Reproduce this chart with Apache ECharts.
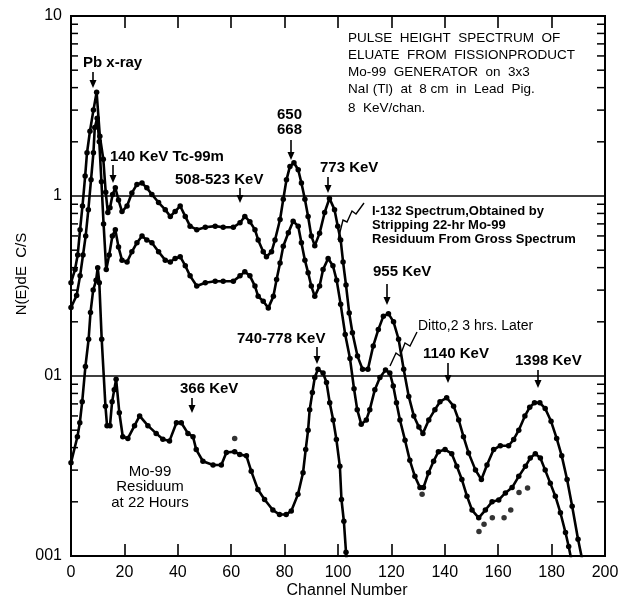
<!DOCTYPE html>
<html>
<head>
<meta charset="utf-8">
<title>Pulse height spectrum - Mo-99 generator eluate</title>
<script src="https://cdn.jsdelivr.net/npm/echarts@6.0.0/dist/echarts.min.js"></script>
<style>
  html, body { margin: 0; padding: 0; background: #fff; }
  #box { width: 624px; height: 601px; }
</style>
</head>
<body>
<div id="box"></div>
<script>
// readings: channel number and N(E)dE in C/S
// I-132 spectrum (stripped of 22-hr Mo-99 residuum) - top curve
const i132Ch = [0, 1.5, 2.5, 3.4, 4.3, 5.3, 6.0, 7.1, 8.4, 9.6,
  10.8, 12.1, 13.0, 13.8, 14.6, 15.6, 16.6, 17.8, 19.1, 21.0,
  22.8, 24.7, 26.6, 28.4, 30.3, 32.8, 35.3, 37.2, 39.0, 40.9,
  42.8, 44.6, 47.1, 50.3, 54.0, 57.0, 60.8, 63.3, 65.1, 67.0,
  68.9, 70.1, 72.0, 73.2, 75.1, 76.4, 78.3, 79.5, 80.7, 82.0,
  83.5, 85.1, 86.3, 87.6, 88.8, 90.0, 91.3, 93.1, 95.0, 96.8,
  98.7, 99.9, 101.0, 101.9, 103.0, 104.2, 105.4, 107.3, 109.2, 111.2,
  113.2, 115.1, 117.0, 118.9, 120.8, 122.7, 124.6, 126.5, 128.4, 130.3,
  131.8, 134.0, 136.3, 138.2, 140.7, 143.3, 145.2, 147.0, 148.9, 151.5,
  153.7, 155.8, 158.3, 160.8, 163.9, 165.8, 167.7, 170.0, 171.8, 173.6,
  175.6, 177.6, 179.8, 181.9, 183.8, 185.8, 187.7, 189.9, 191.5];
const i132Val = [0.33, 0.39, 0.47, 0.65, 0.88, 1.29, 1.74, 2.29, 3.0, 3.77,
  2.15, 1.6, 1.05, 0.81, 0.86, 1.02, 1.11, 0.95, 0.82, 0.88,
  1.04, 1.16, 1.18, 1.11, 1.02, 0.92, 0.84, 0.77, 0.82, 0.88,
  0.77, 0.68, 0.65, 0.67, 0.68, 0.67, 0.67, 0.71, 0.77, 0.72,
  0.65, 0.57, 0.49, 0.46, 0.49, 0.57, 0.74, 0.96, 1.23, 1.46,
  1.53, 1.40, 1.18, 0.96, 0.77, 0.60, 0.53, 0.62, 0.81, 0.97,
  0.84, 0.68, 0.57, 0.43, 0.32, 0.224, 0.174, 0.129, 0.109, 0.109,
  0.147, 0.181, 0.215, 0.222, 0.20, 0.16, 0.109, 0.077, 0.060, 0.052,
  0.048, 0.057, 0.065, 0.072, 0.0757, 0.068, 0.057, 0.046, 0.0374, 0.030,
  0.0266, 0.032, 0.039, 0.041, 0.041, 0.0444, 0.050, 0.060, 0.067, 0.071,
  0.071, 0.066, 0.056, 0.045, 0.036, 0.0266, 0.0189, 0.0124, 0.0095];

// ditto, 2.3 hrs later - middle curve
const dittoCh = [0, 2.1, 3.4, 4.5, 5.5, 6.5, 7.5, 8.4, 8.9, 9.8,
  10.6, 11.4, 12.2, 13.2, 14.3, 15.5, 16.6, 17.8, 19.1, 21.0,
  22.8, 24.7, 26.6, 28.4, 30.3, 32.8, 35.3, 37.2, 39.0, 40.9,
  42.8, 44.6, 47.1, 50.3, 54.0, 57.0, 60.8, 63.3, 65.1, 67.0,
  68.9, 70.1, 72.0, 73.9, 75.8, 77.0, 78.3, 79.5, 81.4, 83.2,
  85.1, 86.3, 87.6, 88.8, 90.0, 91.3, 93.1, 94.4, 96.3, 98.1,
  99.5, 101.0, 102.7, 104.5, 106.0, 107.2, 108.7, 110.6, 111.9, 113.8,
  115.7, 117.8, 119.4, 120.7, 121.9, 123.2, 125.1, 126.9, 128.8, 130.7,
  132.0, 133.9, 135.8, 137.6, 140.1, 142.6, 144.5, 146.4, 148.3, 150.2,
  152.7, 155.2, 157.7, 160.2, 162.7, 165.2, 167.7, 170.2, 172.0, 173.9,
  175.8, 177.6, 179.5, 181.4, 183.3, 185.2, 186.4, 187.6];
const dittoVal = [0.24, 0.28, 0.36, 0.47, 0.60, 0.84, 1.23, 1.74, 2.4, 2.7,
  2.0, 1.2, 0.7, 0.39, 0.47, 0.60, 0.65, 0.52, 0.44, 0.43,
  0.49, 0.55, 0.60, 0.57, 0.55, 0.49, 0.44, 0.43, 0.45, 0.46,
  0.41, 0.36, 0.316, 0.33, 0.336, 0.336, 0.336, 0.36, 0.38, 0.36,
  0.316, 0.277, 0.26, 0.239, 0.277, 0.344, 0.425, 0.526, 0.625, 0.724,
  0.68, 0.55, 0.44, 0.375, 0.316, 0.277, 0.316, 0.39, 0.45, 0.41,
  0.34, 0.25, 0.17, 0.125, 0.085, 0.065, 0.054, 0.057, 0.065, 0.084,
  0.098, 0.108, 0.104, 0.088, 0.071, 0.057, 0.044, 0.034, 0.0277, 0.024,
  0.024, 0.029, 0.0336, 0.038, 0.039, 0.037, 0.0315, 0.0266, 0.0215, 0.018,
  0.0163, 0.018, 0.020, 0.0205, 0.0224, 0.024, 0.0277, 0.0315, 0.035, 0.037,
  0.035, 0.030, 0.0254, 0.0215, 0.0174, 0.0135, 0.0113, 0.0092];

// Mo-99 residuum at 22 hours - bottom curve
const mo99Ch = [0, 2.4, 3.3, 4.2, 5.4, 6.6, 7.3, 8.3, 9.4, 10.0,
  10.6, 11.5, 12.9, 13.5, 14.6, 15.4, 16.2, 16.9, 18.1, 19.4,
  21.3, 23.8, 25.7, 28.8, 31.9, 34.4, 36.9, 39.5, 41.3, 43.8,
  45.7, 46.9, 49.4, 53.2, 56.3, 58.2, 61.3, 63.2, 65.7, 67.5,
  70.0, 72.5, 75.6, 78.1, 80.6, 82.5, 85.0, 86.9, 87.9, 88.8,
  89.4, 90.4, 91.3, 92.5, 94.4, 95.7, 96.9, 98.2, 99.4, 100.7,
  101.3, 102.2, 103.0, 103.3];
const mo99Val = [0.033, 0.046, 0.055, 0.072, 0.113, 0.16, 0.225, 0.30, 0.34, 0.40,
  0.33, 0.16, 0.068, 0.053, 0.053, 0.072, 0.084, 0.096, 0.0625, 0.046,
  0.045, 0.053, 0.060, 0.053, 0.048, 0.0445, 0.0436, 0.055, 0.055, 0.048,
  0.046, 0.039, 0.0336, 0.032, 0.032, 0.0376, 0.038, 0.0366, 0.036, 0.0296,
  0.0234, 0.0206, 0.018, 0.017, 0.017, 0.0178, 0.022, 0.029, 0.039, 0.050,
  0.065, 0.081, 0.098, 0.109, 0.104, 0.092, 0.071, 0.057, 0.0444, 0.0315,
  0.0206, 0.0156, 0.0105, 0.009];

// loose points that sit off the drawn curves
const strayCh = [61.3, 131.5, 152.8, 154.7, 157.8, 162.2, 164.7, 167.8, 171.0];
const strayVal = [0.045, 0.022, 0.0137, 0.015, 0.0163, 0.0163, 0.018, 0.0225, 0.0239];

// axis ticks
const yTickValues = [0.01, 0.1, 1, 10];
const yTickLabels = ['001', '01', '1', '10'];
const minorTicks = [0.02, 0.03, 0.04, 0.05, 0.06, 0.07, 0.08, 0.09,
  0.2, 0.3, 0.4, 0.5, 0.6, 0.7, 0.8, 0.9, 2, 3, 4, 5, 6, 7, 8, 9];

function pairs(xs, ys) {
  return xs.map((x, i) => [x, ys[i]]);
}

const FAMILY = "'Liberation Sans', Arial, sans-serif";
const BOLD = "bold 15px " + FAMILY;
const BOLD13 = "bold 13px " + FAMILY;
const PLAIN13 = "13.5px " + FAMILY;
const PLAIN14 = "14px " + FAMILY;
const PLAIN15 = "15px " + FAMILY;
const PLAIN16 = "16px " + FAMILY;

function text(str, x, y, font, align, rotation) {
  return {
    type: 'text', x: x, y: y, rotation: rotation || 0, silent: true,
    style: { text: str, font: font, fill: '#000', textAlign: align || 'left', textVerticalAlign: 'middle' }
  };
}

// down-pointing arrow
function arrow(x, y1, y2) {
  return {
    type: 'group', silent: true,
    children: [
      { type: 'line', shape: { x1: x, y1: y1, x2: x, y2: y2 - 5 }, style: { stroke: '#000', lineWidth: 1.6 } },
      { type: 'polygon', shape: { points: [[x - 3.5, y2 - 8], [x + 3.5, y2 - 8], [x, y2]] }, style: { fill: '#000' } }
    ]
  };
}

function squiggle(points) {
  return { type: 'polyline', silent: true, shape: { points: points }, style: { stroke: '#000', lineWidth: 1.4, fill: null } };
}

const lineSeries = (name, data) => ({
  name: name,
  type: 'line',
  data: data,
  symbol: 'circle',
  symbolSize: 5.5,
  showAllSymbol: true,
  lineStyle: { color: '#000', width: 2.6 },
  itemStyle: { color: '#000' },
  clip: true,
  z: 3
});

const chart = echarts.init(document.getElementById('box'));
const option = {
  backgroundColor: '#fff',
  animation: false,
  grid: {
    left: 71, right: 19, top: 16, bottom: 45,
    show: true, borderColor: '#000', borderWidth: 2, backgroundColor: 'transparent'
  },
  xAxis: [
    {
      type: 'value', min: 0, max: 200, interval: 20,
      axisLine: { show: false },
      axisTick: { show: true, inside: true, length: 12, lineStyle: { color: '#000', width: 1.6 } },
      axisLabel: { color: '#000', fontSize: 16, fontFamily: FAMILY, margin: 9 },
      splitLine: { show: false }
    },
    {
      type: 'value', position: 'top', min: 0, max: 200, interval: 20,
      axisLine: { show: false },
      axisTick: { show: true, inside: true, length: 12, lineStyle: { color: '#000', width: 1.6 } },
      axisLabel: { show: false },
      splitLine: { show: false }
    }
  ],
  yAxis: [
    {
      type: 'log', logBase: 10, min: 0.01, max: 10,
      axisLine: { show: false },
      axisTick: { show: false },
      axisLabel: {
        color: '#000', fontSize: 16, fontFamily: FAMILY, margin: 9,
        formatter: function (v) {
          const i = yTickValues.findIndex(t => Math.abs(Math.log10(t) - Math.log10(v)) < 1e-6);
          return i >= 0 ? yTickLabels[i] : '';
        }
      },
      splitLine: { show: true, lineStyle: { color: '#000', width: 1.6 } }
    }
  ],
  series: [
    lineSeries('I-132 Spectrum', pairs(i132Ch, i132Val)),
    lineSeries('Ditto, 2.3 hrs later', pairs(dittoCh, dittoVal)),
    lineSeries('Mo-99 Residuum at 22 Hours', pairs(mo99Ch, mo99Val)),
    {
      name: 'stray points',
      type: 'scatter',
      data: pairs(strayCh, strayVal),
      symbolSize: 5.5,
      itemStyle: { color: '#000' },
      z: 3
    },
    {
      // minor log ticks on both sides of the frame
      name: 'minor ticks',
      type: 'custom',
      silent: true,
      clip: false,
      data: minorTicks.map(v => [0, v]),
      renderItem: function (params, api) {
        const l = api.coord([0, api.value(1)]);
        const r = api.coord([200, api.value(1)]);
        return {
          type: 'group',
          children: [
            { type: 'line', shape: { x1: l[0], y1: l[1], x2: l[0] + 7, y2: l[1] }, style: { stroke: '#000', lineWidth: 1.5 } },
            { type: 'line', shape: { x1: r[0] - 8, y1: r[1], x2: r[0], y2: r[1] }, style: { stroke: '#000', lineWidth: 1.5 } }
          ]
        };
      },
      z: 2
    }
  ],
  graphic: [
    // title block
    text('PULSE  HEIGHT  SPECTRUM  OF', 348, 38, PLAIN13),
    text('ELUATE  FROM  FISSIONPRODUCT', 348, 55, PLAIN13),
    text('Mo-99  GENERATOR  on  3x3', 348, 72, PLAIN13),
    text('NaI (Tl)  at  8 cm  in  Lead  Pig.', 348, 89, PLAIN13),
    text('8  KeV/chan.', 348, 108, PLAIN13),

    // peak labels
    text('Pb x-ray', 83, 63, BOLD),
    arrow(93, 72, 88),
    text('140 KeV Tc-99m', 110, 157, BOLD),
    arrow(113, 165, 183),
    text('508-523 KeV', 175, 180, BOLD),
    arrow(240, 188, 203),
    text('650', 277, 115, BOLD),
    text('668', 277, 130, BOLD),
    arrow(291, 140, 160),
    text('773 KeV', 320, 168, BOLD),
    arrow(328, 177, 193),
    text('955 KeV', 373, 272, BOLD),
    arrow(387, 284, 305),
    text('1140 KeV', 423, 354, BOLD),
    arrow(448, 363, 383),
    text('1398 KeV', 515, 361, BOLD),
    arrow(538, 370, 388),
    text('740-778 KeV', 237, 339, BOLD),
    arrow(317, 347, 364),
    text('366 KeV', 180, 389, BOLD),
    arrow(192, 398, 413),

    // curve notes
    text('I-132 Spectrum,Obtained by', 372, 211, BOLD13),
    text('Stripping 22-hr Mo-99', 372, 225, BOLD13),
    text('Residuum From Gross Spectrum', 372, 239, BOLD13),
    squiggle([[364, 203], [356, 214], [352, 211], [347, 222], [343, 220], [338, 240]]),
    text('Ditto,2 3 hrs. Later', 418, 326, PLAIN14),
    squiggle([[417, 332], [410, 346], [405, 343], [400, 356], [396, 353], [390, 366]]),
    text('Mo-99', 150, 472, PLAIN15, 'center'),
    text('Residuum', 150, 487, PLAIN15, 'center'),
    text('at 22 Hours', 150, 503, PLAIN15, 'center'),

    // axis titles
    text('Channel Number', 347, 591, PLAIN16, 'center'),
    text('N(E)dE  C/S', 22, 274, PLAIN15, 'center', Math.PI / 2)
  ]
};
chart.setOption(option);
</script>
</body>
</html>
